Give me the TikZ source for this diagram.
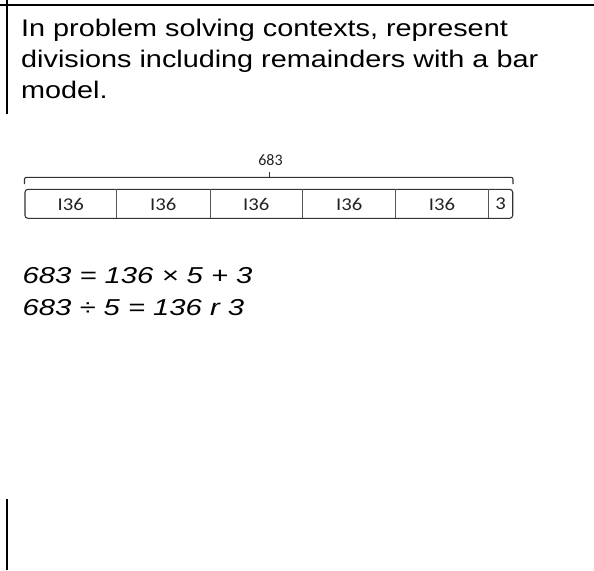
\documentclass[tikz,border=0pt]{standalone}
\usepackage{fontspec}
\setmainfont{Liberation Sans}
\newfontfamily\hdrfont[FakeStretch=1.2]{Liberation Sans}
\newfontfamily\eqfont[FakeStretch=1.27]{Liberation Sans}
\newfontfamily\barfont{Carlito}
\newfontfamily\segfont[FakeStretch=1.15]{Carlito}
\definecolor{barline}{HTML}{333333}
\definecolor{divline}{HTML}{555555}
\definecolor{bartext}{HTML}{222222}
\tikzset{
  border/.style={line width=1.8pt, black},
  hdr/.style={anchor=base west, inner sep=0pt, font=\hdrfont\fontsize{24}{28}\selectfont},
  eqn/.style={anchor=base west, inner sep=0pt, font=\eqfont\itshape\fontsize{23}{28}\selectfont},
  seglabel/.style={inner sep=0pt, text=bartext, font=\segfont\fontsize{18}{20}\selectfont},
  toplabel/.style={inner sep=0pt, text=bartext, font=\barfont\fontsize{16}{18}\selectfont},
  barstroke/.style={line width=1.1pt, draw=barline},
  divstroke/.style={line width=0.9pt, draw=divline}
}
\begin{document}
\begin{tikzpicture}[x=1pt,y=-1pt]
\useasboundingbox (0,0) rectangle (594,570);
\fill[white] (0,0) rectangle (594,570);
% frame lines
\coordinate (hl) at (0,5);
\coordinate (hr) at (594,5);
\draw[border] (hl) -- (hr);
\coordinate (v1t) at (7,0);
\coordinate (v1b) at (7,114);
\draw[border] (v1t) -- (v1b);
\coordinate (v2t) at (7,499);
\coordinate (v2b) at (7,570);
\draw[border] (v2t) -- (v2b);
% header text
\node[hdr] (h1) at (21,36.5) {In problem solving contexts, represent};
\node[hdr] (h2) at (21,67.5) {divisions including remainders with a bar};
\node[hdr] (h3) at (21,98.5) {model.};
% bracket
\coordinate (bl) at (24.5,184);
\coordinate (br) at (513,184);
\draw[barstroke, rounded corners=2pt] (bl) -- (24.5,177.3) -- (513,177.3) -- (br);
\coordinate (tickb) at (269.5,177.3);
\coordinate (tickt) at (269.5,171.5);
\draw[barstroke] (tickb) -- (tickt);
\node[toplabel] (total) at (270.5,160) {683};
% bar
\draw[barstroke, rounded corners=3pt] (25,189.3) rectangle (512.7,218.3);
\foreach \x in {116.7,210,302.7,395.7,488.3}{
  \draw[divstroke] (\x,189.3) -- (\x,218.3);
}
\node[seglabel] (s1) at (70.8,204) {I36};
\node[seglabel] (s2) at (163.3,204) {I36};
\node[seglabel] (s3) at (256.3,204) {I36};
\node[seglabel] (s4) at (349.2,204) {I36};
\node[seglabel] (s5) at (442,204) {I36};
\node[seglabel] (s6) at (500.5,204) {3};
% equations
\node[eqn] (e1) at (22.5,283) {683 = 136 × 5 + 3};
\node[eqn] (e2) at (22.5,315) {683 ÷ 5 = 136 r 3};
\end{tikzpicture}
\end{document}
